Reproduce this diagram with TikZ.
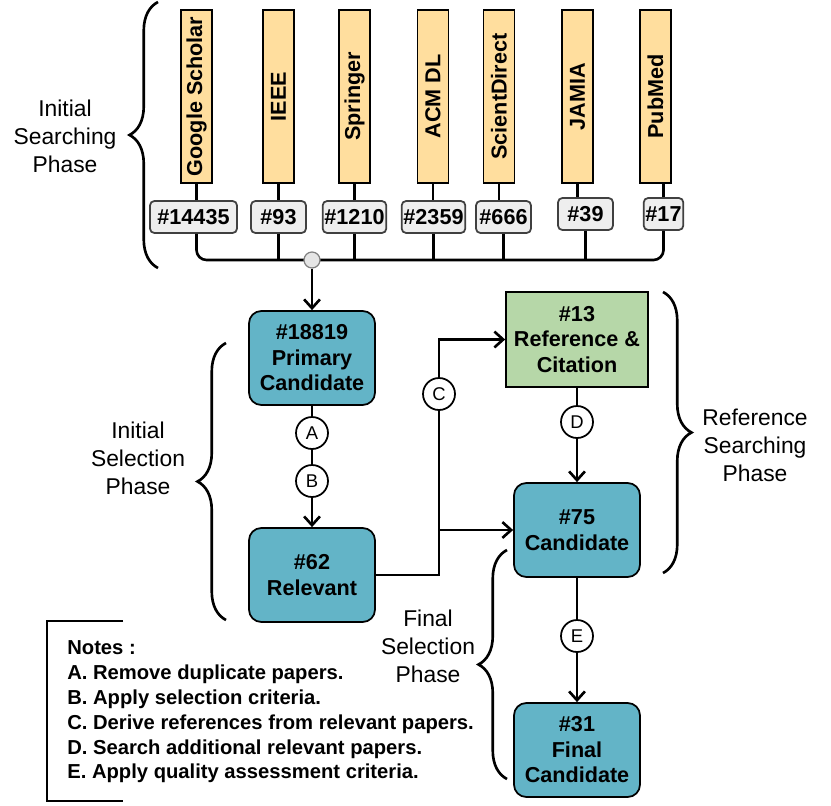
\documentclass[tikz,border=0pt]{standalone}
\usepackage{fontspec}
\setmainfont{Liberation Sans}
\usepackage{tikz}
\usetikzlibrary{arrows.meta,decorations.pathreplacing}

\definecolor{dbfill}{RGB}{255,222,158}
\definecolor{cntfill}{RGB}{238,238,238}
\definecolor{stagefill}{RGB}{99,180,199}
\definecolor{reffill}{RGB}{182,215,168}

\begin{document}
\begin{tikzpicture}[x=0.02cm, y=-0.02cm, line width=1.5pt,
  dbbar/.style={draw, fill=dbfill, line width=1pt, rotate=90, minimum width=3.46cm, minimum height=0.62cm, inner sep=0pt, font=\fontsize{12.3}{14}\selectfont\bfseries},
  cnt/.style={draw=black!75, fill=cntfill, line width=1pt, rounded corners=2.5pt, minimum height=0.64cm, inner xsep=1pt, font=\fontsize{12.3}{14}\selectfont\bfseries},
  stage/.style={draw, fill=stagefill, line width=1pt, rounded corners=7pt, minimum width=2.52cm, minimum height=1.88cm, align=center, inner sep=1pt, font=\fontsize{12.3}{14.5}\selectfont\bfseries},
  refbox/.style={draw, fill=reffill, line width=1pt, minimum width=2.84cm, minimum height=1.9cm, align=center, inner sep=1pt, font=\fontsize{12.3}{14.5}\selectfont\bfseries},
  lbl/.style={circle, draw, fill=white, line width=1pt, minimum size=0.64cm, inner sep=0pt, font=\fontsize{10.5}{12}\selectfont},
  junc/.style={circle, draw=black!50, fill=black!10, line width=0.7pt, minimum size=0.32cm, inner sep=0pt},
  phase/.style={align=center, font=\fontsize{13}{16}\selectfont},
  brc/.style={decorate, decoration={brace, amplitude=#1}}, brc/.default=0.57cm,
  arr/.style={-{Straight Barb[length=5pt,width=9pt]}}]
\useasboundingbox (0,0) rectangle (831,805);

% ---- databases and hit counts
\node[dbbar] (gs) at (196.5,96.5) {Google Scholar};
\node[dbbar] (ieee) at (278.5,96.5) {IEEE};
\node[dbbar] (spr) at (354.5,96.5) {Springer};
\node[dbbar] (acm) at (433,96.5) {ACM DL};
\node[dbbar] (sd) at (499,96.5) {ScientDirect};
\node[dbbar] (jam) at (577.5,96.5) {JAMIA};
\node[dbbar] (pm) at (655.5,96.5) {PubMed};

\node[cnt, minimum width=1.74cm] (n1) at (193.5,217) {\#14435};
\node[cnt, minimum width=1.10cm] (n2) at (278.5,217) {\#93};
\node[cnt, minimum width=1.26cm] (n3) at (354.5,217) {\#1210};
\node[cnt, minimum width=1.26cm] (n4) at (433.5,217) {\#2359};
\node[cnt, minimum width=1.10cm] (n5) at (503.5,217) {\#666};
\node[cnt, minimum width=1.10cm] (n6) at (585.5,214) {\#39};
\node[cnt, minimum width=0.78cm] (n7) at (663.5,214) {\#17};

\foreach \b/\n in {gs/n1, ieee/n2, spr/n3, acm/n4, sd/n5, jam/n6}
  \draw (\b.west) -- (\b.west |- \n.north);
\draw (n7.north) -- (n7.north |- pm.west);

% ---- merge into one pool
\coordinate (bus) at (312,260);
\draw[rounded corners=0.2cm] (gs.west |- n1.south) -- (gs.west |- bus) -- (n7.south |- bus) -- (n7.south);
\foreach \n in {n2,n3,n4,n5,n6}
  \draw (\n.south) -- (\n.south |- bus);
\node[junc] (jn) at (bus) {};

% ---- selection stages
\node[stage] (prim) at (312,358) {\#18819\\Primary\\Candidate};
\node[stage] (rel) at (312,575) {\#62\\Relevant};
\node[refbox] (ref) at (577,339.5) {\#13\\Reference \&\\Citation};
\node[stage] (cand) at (577,530) {\#75\\Candidate};
\node[stage] (fin) at (577,750) {\#31\\Final\\Candidate};

\draw[arr] (jn) -- (prim);
\draw[arr] (prim) -- (rel);
\node[lbl] (la) at (312,433) {A};
\node[lbl] (lb) at (312,481) {B};
\coordinate (split) at (439,530);
\draw[arr] (rel.east) -| (split) |- (ref.west);
\draw[arr] (split) -- (split -| cand.west);
\node[lbl] (lc) at (439,394) {C};
\draw[arr] (ref) -- (cand);
\node[lbl] (ld) at (577,422) {D};
\draw[arr] (cand) -- (fin);
\node[lbl] (le) at (577,636) {E};

% ---- phases
\node[phase] (isp) at (65,136) {Initial\\Searching\\Phase};
\node[phase] (isel) at (138,458) {Initial\\Selection\\Phase};
\node[phase] (rsp) at (755,445) {Reference\\Searching\\Phase};
\node[phase] (fsp) at (428,646) {Final\\Selection\\Phase};
\draw[brc] (158,268) -- (158,2);
\draw[brc] (226,620) -- (226,343);
\draw[brc] (663,292) -- (663,573);
\draw[brc] (507,779) -- (507,550);

% ---- notes
\node[anchor=north west, align=left, inner sep=0pt, font=\fontsize{11.5}{14.2}\selectfont\bfseries] (notes) at (66,639)
  {Notes :\\A. Remove duplicate papers.\\B. Apply selection criteria.\\C. Derive references from relevant papers.\\D. Search additional relevant papers.\\E. Apply quality assessment criteria.};
\draw (123,621) -| (47,801) -- (123,801);
\end{tikzpicture}
\end{document}
